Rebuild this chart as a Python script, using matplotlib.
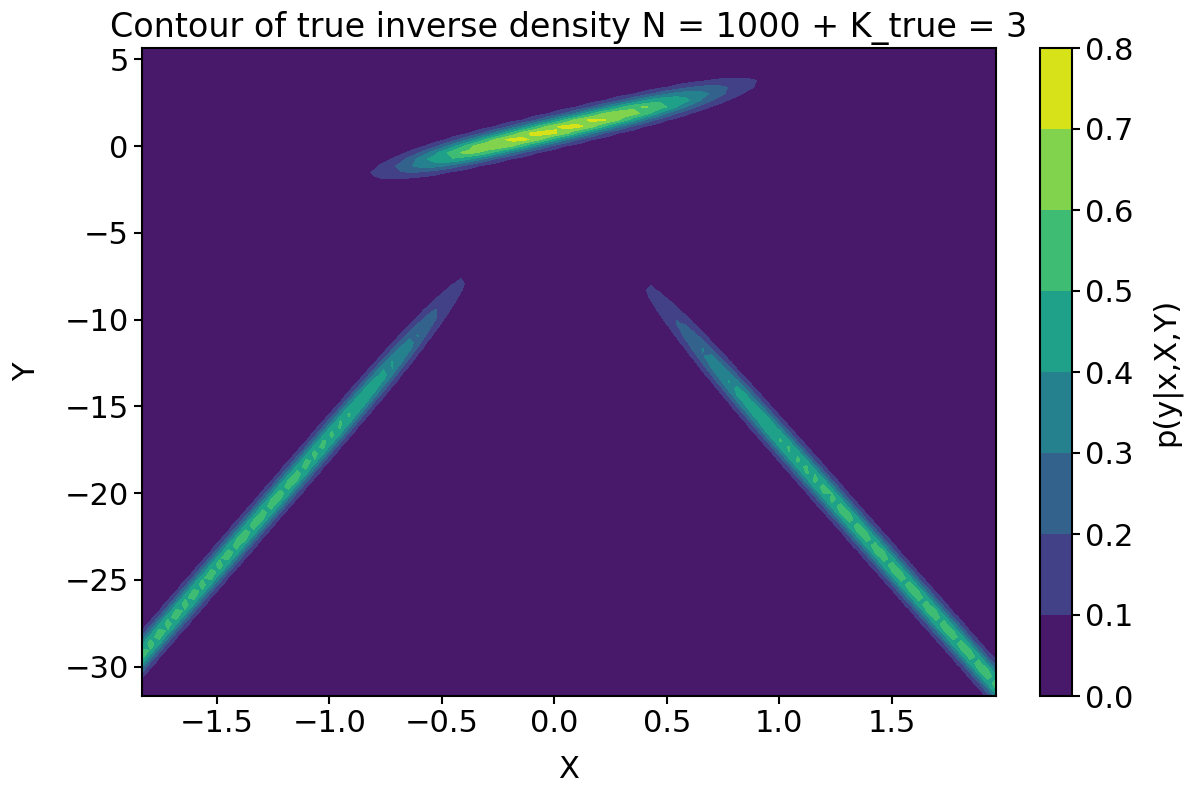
import numpy as np
import matplotlib
matplotlib.use("Agg")
import matplotlib.pyplot as plt

# grid extent (taken from the data range of the reference)
x_range = [-1.833, 1.963]
y_range = [-31.7, 5.65]
n_grid = 100

# three mixture components: left branch, top ellipse, right branch
slopes = [15.0, 3.07, -14.7]
intercepts = [-1.8, 0.9, -2.16]
y_sd = [0.72, 0.52, 0.72]

# logistic gates switching between components along x
gate_x0 = [-0.58, 0.62]
gate_k = [8.0, 6.7]

levels = [0.0, 0.1, 0.2, 0.3, 0.4, 0.5, 0.6, 0.7, 0.8]


def sigmoid(z):
    return 1.0 / (1.0 + np.exp(-z))


def density(x, y):
    r_left = sigmoid(-gate_k[0] * (x - gate_x0[0]))
    r_right = sigmoid(gate_k[1] * (x - gate_x0[1]))
    r_top = 1.0 - r_left - r_right
    weights = [r_left, r_top, r_right]
    p = np.zeros_like(x)
    for w, a, b, s in zip(weights, slopes, intercepts, y_sd):
        m = a * x + b
        p += w * np.exp(-0.5 * ((y - m) / s) ** 2) / (s * np.sqrt(2 * np.pi))
    return p


xs = np.linspace(x_range[0], x_range[1], n_grid)
ys = np.linspace(y_range[0], y_range[1], n_grid)
X, Y = np.meshgrid(xs, ys)
Z = density(X, Y)

plt.rcParams["font.size"] = 22
plt.rcParams["axes.linewidth"] = 1.5
plt.rcParams["xtick.major.size"] = 6
plt.rcParams["ytick.major.size"] = 6
plt.rcParams["xtick.major.width"] = 1.5
plt.rcParams["ytick.major.width"] = 1.5

fig = plt.figure(figsize=(12, 8), dpi=100)
ax = fig.add_axes([0.1183, 0.13, 0.7117, 0.81])
cax = fig.add_axes([1040 / 1200, 0.13, 32 / 1200, 0.81])

cs = ax.contourf(X, Y, Z, levels=levels, cmap="viridis")
ax.set_xlabel("X", fontsize=22, labelpad=12)
ax.set_ylabel("Y", fontsize=22, labelpad=17)
ax.set_title("Contour of true inverse density N = 1000 + K_true = 3", fontsize=24, pad=8)

cb = fig.colorbar(cs, cax=cax)
cb.set_label("p(y|x,X,Y)", fontsize=22, labelpad=12)
cb.outline.set_linewidth(1.5)

fig.savefig("out.png", dpi=100)
